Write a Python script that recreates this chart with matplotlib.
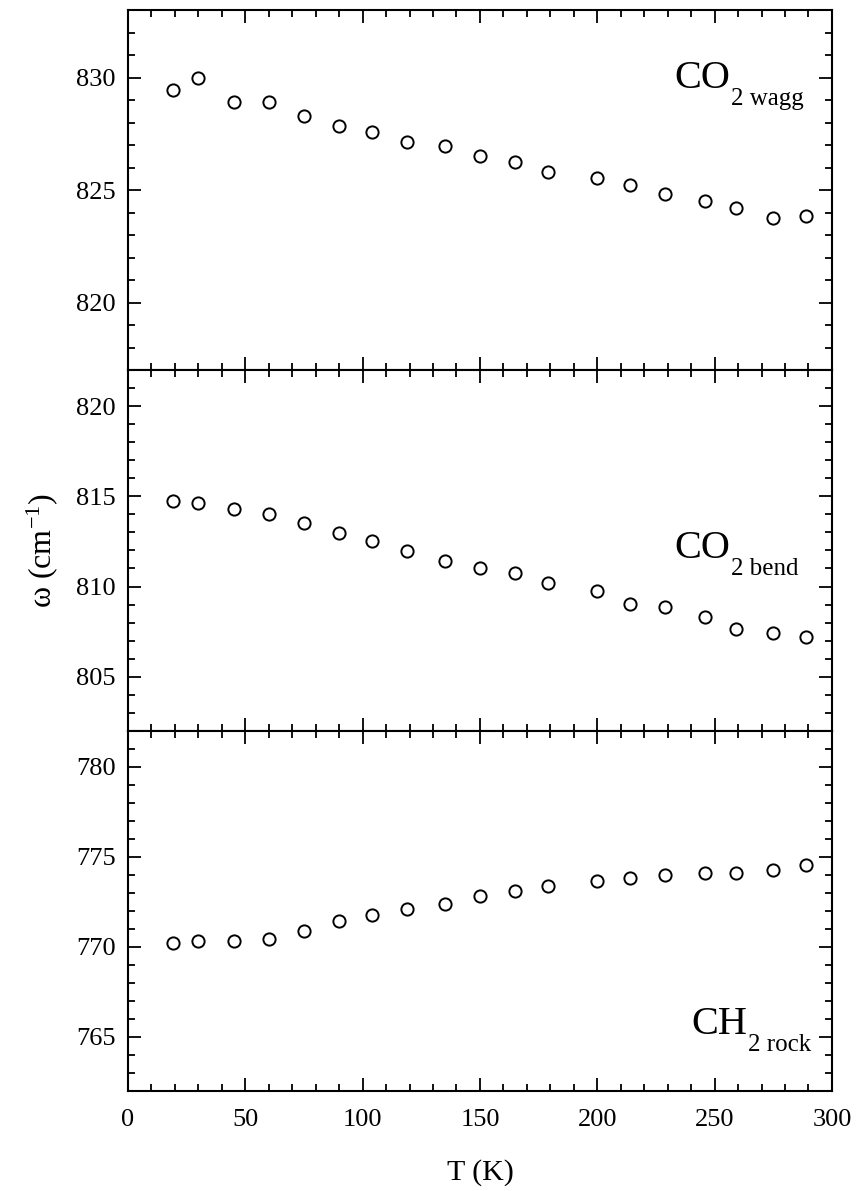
import numpy as np
import matplotlib
matplotlib.use("Agg")
import matplotlib.pyplot as plt
from matplotlib.ticker import MultipleLocator

plt.rcParams['font.family'] = ['Liberation Serif', 'DejaVu Serif']
plt.rcParams['mathtext.fontset'] = 'custom'
plt.rcParams['mathtext.rm'] = 'Liberation Serif'
plt.rcParams['mathtext.it'] = 'Liberation Serif:italic'

# temperature (K)
T = [19, 30, 45, 60, 75, 90, 104, 119, 135, 150, 165, 179, 200, 214, 229, 246, 259, 275, 289]

# frequencies (cm^-1)
co2_wagg = [829.45, 830.0, 828.9, 828.9, 828.3, 827.85, 827.6, 827.15, 826.95, 826.5,
            826.25, 825.8, 825.55, 825.25, 824.85, 824.5, 824.2, 823.75, 823.85]
co2_bend = [814.75, 814.65, 814.3, 814.05, 813.5, 812.95, 812.55, 811.95, 811.4, 811.0,
            810.75, 810.2, 809.75, 809.05, 808.85, 808.3, 807.65, 807.4, 807.2]
ch2_rock = [770.2, 770.3, 770.3, 770.45, 770.9, 771.45, 771.75, 772.1, 772.35, 772.8,
            773.1, 773.35, 773.65, 773.8, 774.0, 774.1, 774.1, 774.25, 774.55]

series = [co2_wagg, co2_bend, ch2_rock]
ylims = [(817, 833), (802, 822), (762, 782)]
names = [("CO", "2 wagg"), ("CO", "2 bend"), ("CH", "2 rock")]
label_pos = [(233, 829.55), (233, 811.6), (240, 765.15)]

fig, axes = plt.subplots(3, 1, figsize=(8.6, 11.91), dpi=100, sharex=True)
fig.subplots_adjust(left=0.1488, right=0.9674, top=0.9916, bottom=0.0840, hspace=0)

for ax, y, lim, nm, pos in zip(axes, series, ylims, names, label_pos):
    ax.plot(T, y, 'o', mfc='white', mec='black', ms=8.8, mew=1.4, ls='none')
    ax.set_xlim(0, 300)
    ax.set_ylim(*lim)
    ax.xaxis.set_major_locator(MultipleLocator(50))
    ax.xaxis.set_minor_locator(MultipleLocator(10))
    ax.yaxis.set_major_locator(MultipleLocator(5))
    ax.yaxis.set_minor_locator(MultipleLocator(1))
    ax.tick_params(which='both', direction='in', top=True, right=True, width=1.3,
                   labelsize=19)
    ax.tick_params(which='major', length=9.5)
    ax.tick_params(which='minor', length=5)
    ax.tick_params(axis='y', pad=9)
    ax.tick_params(axis='x', pad=13)
    for s in ax.spines.values():
        s.set_linewidth(1.5)
    # label with subscript
    t = ax.text(pos[0], pos[1], nm[0], fontsize=29, ha='left', va='baseline')
    ax.annotate(nm[1], xy=(1, 0), xycoords=t, xytext=(0.5, -5.8),
                textcoords='offset points', fontsize=18, ha='left', va='baseline')

axes[2].set_xlabel('T (K)', fontsize=21.5)
axes[2].xaxis.set_label_coords(0.5, -0.19)
axes[1].set_ylabel('ω (cm$^{-1}$)', fontsize=23)
axes[1].yaxis.set_label_coords(-0.097, 0.5)

fig.savefig('out.png', dpi=100)
